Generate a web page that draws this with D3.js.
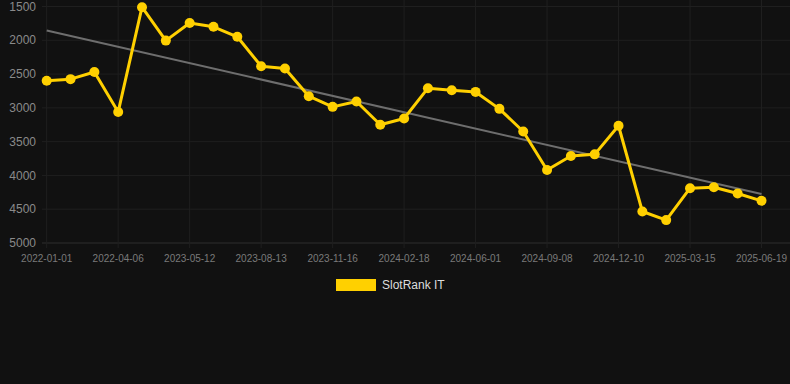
<!DOCTYPE html>
<html>
<head>
<meta charset="utf-8">
<script src="https://cdn.jsdelivr.net/npm/d3@7"></script>
<style>
  html, body { margin: 0; padding: 0; background: #111111; }
  svg { display: block; font-family: "Liberation Sans", Arial, sans-serif; }
</style>
</head>
<body>
<div id="main"></div>
<script>
// ranks, one per period (lower is better, axis is reversed)
const ranks = [2600, 2575, 2470, 3060, 1510, 2005, 1745, 1800, 1948, 2385,
    2418, 2827, 2985, 2906, 3250, 3157, 2709, 2739, 2764, 3015,
    3350, 3919, 3712, 3688, 3265, 4534, 4661, 4189, 4174, 4268, 4376];
const tickLabels = ['2022-01-01', '2022-04-06', '2023-05-12', '2023-08-13', '2023-11-16',
    '2024-02-18', '2024-06-01', '2024-09-08', '2024-12-10', '2025-03-15', '2025-06-19'];
const yTicks = [1500, 2000, 2500, 3000, 3500, 4000, 4500, 5000];
const seriesName = 'SlotRank IT';

const width = 790;
const height = 384;

const svg = d3.select('#main').append('svg')
    .attr('width', width)
    .attr('height', height);

const x = d3.scaleLinear()
    .domain([0, ranks.length - 1])
    .range([46.7, 761.5]);
const y = d3.scaleLinear()
    .domain([1500, 5000])
    .range([6.5, 243]);

const tickIdx = tickLabels.map((d, i) => i * 3);

// grid
svg.append('g')
    .selectAll('line')
    .data(yTicks)
    .enter()
    .append('line')
    .attr('x1', 42)
    .attr('x2', width)
    .attr('y1', (d) => y(d))
    .attr('y2', (d) => y(d))
    .attr('stroke', (d) => d === 5000 ? '#2e2e2e' : '#1f1f1f')
    .attr('stroke-width', 1);

svg.append('g')
    .selectAll('line')
    .data(tickIdx)
    .enter()
    .append('line')
    .attr('x1', (d) => x(d))
    .attr('x2', (d) => x(d))
    .attr('y1', 0)
    .attr('y2', 248)
    .attr('stroke', '#1f1f1f')
    .attr('stroke-width', 1);

// axis labels
svg.append('g')
    .selectAll('text')
    .data(yTicks)
    .enter()
    .append('text')
    .attr('x', 36)
    .attr('y', (d) => y(d))
    .attr('dy', '0.35em')
    .attr('text-anchor', 'end')
    .attr('fill', '#8a8a8a')
    .attr('font-size', 12)
    .text((d) => d);

svg.append('g')
    .selectAll('text')
    .data(tickLabels)
    .enter()
    .append('text')
    .attr('x', (d, i) => x(tickIdx[i]))
    .attr('y', 262)
    .attr('text-anchor', 'middle')
    .attr('fill', '#7a7a7a')
    .attr('font-size', 10)
    .text((d) => d);

// trend line (least squares)
const n = ranks.length;
const mx = d3.mean(ranks, (d, i) => i);
const my = d3.mean(ranks);
const slope = d3.sum(ranks, (d, i) => (i - mx) * (d - my)) / d3.sum(ranks, (d, i) => (i - mx) * (i - mx));
const icpt = my - slope * mx;
svg.append('line')
    .attr('x1', x(0))
    .attr('x2', x(n - 1))
    .attr('y1', y(icpt))
    .attr('y2', y(icpt + slope * (n - 1)))
    .attr('stroke', '#6e6e6e')
    .attr('stroke-width', 2);

// series
const lineGen = d3.line()
    .x((d, i) => x(i))
    .y((d) => y(d));

svg.append('path')
    .datum(ranks)
    .attr('fill', 'none')
    .attr('stroke', '#ffd000')
    .attr('stroke-width', 3)
    .attr('stroke-linejoin', 'round')
    .attr('d', lineGen);

svg.append('g')
    .selectAll('circle')
    .data(ranks)
    .enter()
    .append('circle')
    .attr('cx', (d, i) => x(i))
    .attr('cy', (d) => y(d))
    .attr('r', 5)
    .attr('fill', '#ffd000');

// legend
const legend = svg.append('g');
legend.append('rect')
    .attr('x', 336)
    .attr('y', 279)
    .attr('width', 40)
    .attr('height', 12)
    .attr('fill', '#ffd000');
legend.append('text')
    .attr('x', 382)
    .attr('y', 285)
    .attr('dy', '0.35em')
    .attr('fill', '#dddddd')
    .attr('font-size', 12)
    .text(seriesName);
</script>
</body>
</html>
